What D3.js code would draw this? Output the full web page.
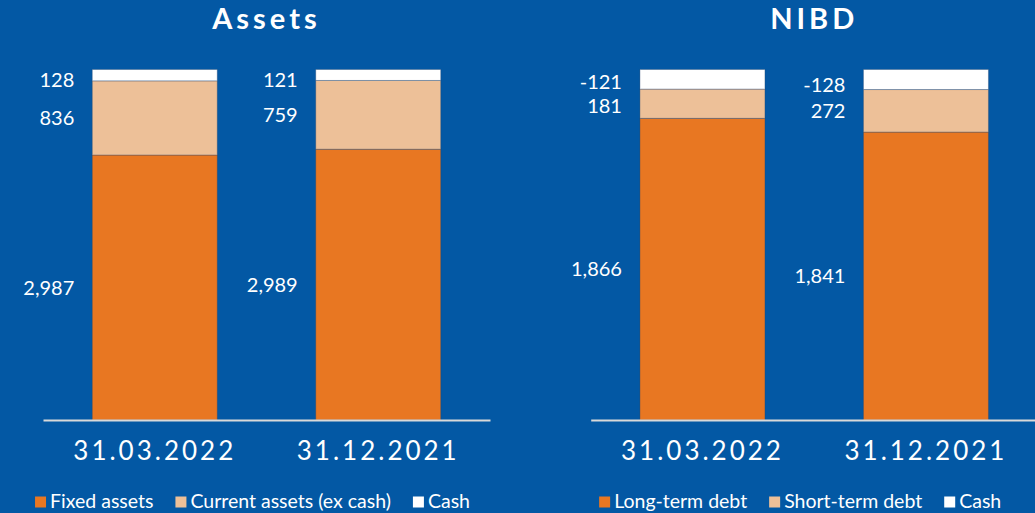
<!DOCTYPE html>
<html>
<head>
<meta charset="utf-8">
<script src="https://cdn.jsdelivr.net/npm/d3@7"></script>
<style>
  html, body { margin: 0; padding: 0; background: #0358a4; }
  svg { display: block; font-family: Lato, "Noto Sans", sans-serif; }
</style>
</head>
<body>
<svg id="chart" width="1035" height="513"></svg>
<script>
// Balance sheet snapshot: two 100% stacked bar panels
const categories = ["31.03.2022", "31.12.2021"];

const assetSeries = ["Fixed assets", "Current assets (ex cash)", "Cash"];
const fixedAssets = [2987, 2989];
const currentAssets = [836, 759];
const assetsCash = [128, 121];

const nibdSeries = ["Long-term debt", "Short-term debt", "Cash"];
const longTermDebt = [1866, 1841];
const shortTermDebt = [181, 272];
const nibdCash = [-121, -128];

const seriesColors = ["#e87722", "#edc098", "#ffffff"];

const W = 1035, H = 513;
const svg = d3.select("#chart");
svg.append("rect").attr("width", W).attr("height", H).attr("fill", "#0358a4");

const fmt = d3.formatLocale({ decimal: ".", thousands: ",", grouping: [3], currency: ["", ""], minus: "-" }).format(",");

const plotTop = 69.5, plotBottom = 420, plotWidth = 447;
const labelSize = 20, minLabelGap = 24;

const panels = [
  { title: "Assets", left: 43, names: assetSeries, values: [fixedAssets, currentAssets, assetsCash] },
  { title: "NIBD", left: 590.7, names: nibdSeries, values: [longTermDebt, shortTermDebt, nibdCash] }
];

panels.forEach(p => {
  const g = svg.append("g");
  const x = d3.scaleBand()
    .domain(categories)
    .range([p.left, p.left + plotWidth])
    .paddingInner(0.4407)
    .paddingOuter(0.2204);
  const y = d3.scaleLinear().domain([0, 1]).range([plotBottom, plotTop]);

  // rows keyed by series index, stacked as shares of each bar's total
  const rows = categories.map((c, i) => {
    const r = { cat: c };
    p.values.forEach((arr, k) => { r[k] = Math.abs(arr[i]); });
    return r;
  });
  const keys = p.values.map((_, k) => k);
  const stacked = d3.stack().keys(keys).offset(d3.stackOffsetExpand)(rows);

  const layers = g.selectAll("g.layer").data(stacked).join("g")
    .attr("class", "layer")
    .attr("fill", d => seriesColors[d.key]);

  layers.selectAll("rect").data(d => d).join("rect")
    .attr("x", d => x(d.data.cat))
    .attr("width", x.bandwidth())
    .attr("y", d => y(d[1]))
    .attr("height", d => y(d[0]) - y(d[1]))
    .attr("stroke", "rgba(40,70,110,0.35)")
    .attr("stroke-width", 1);

  // value labels to the left of each segment; the top label sits a little low,
  // and labels that crowd each other are spread apart
  categories.forEach((c, i) => {
    const pos = stacked.map((layer, k) => {
      const d = layer[i];
      const isTop = k === stacked.length - 1;
      return (y(d[0]) + y(d[1])) / 2 + (isTop ? 5 : 0);
    });
    for (let k = 1; k < pos.length; k++) {
      const gap = pos[k - 1] - pos[k];
      if (gap < minLabelGap) {
        const push = (minLabelGap - gap) / 2;
        pos[k - 1] += push;
        pos[k] -= push;
      }
    }
    stacked.forEach((layer, k) => {
      g.append("text")
        .attr("x", x(c) - 18)
        .attr("y", pos[k])
        .attr("dy", "0.35em")
        .attr("text-anchor", "end")
        .attr("fill", "#ffffff")
        .attr("font-size", labelSize)
        .text(fmt(p.values[k][i]));
    });
  });

  // category axis
  const axis = g.append("g")
    .attr("transform", `translate(0,${plotBottom})`)
    .call(d3.axisBottom(x).tickSize(0).tickSizeOuter(0));
  axis.select(".domain").attr("stroke", "#d9d9d9").attr("stroke-width", 2);
  axis.selectAll(".tick text")
    .attr("y", 40).attr("dy", 0)
    .attr("fill", "#ffffff")
    .attr("font-size", 26)
    .attr("letter-spacing", 3)
    .attr("font-family", "Lato, 'Noto Sans', sans-serif");

  // panel title
  const cx = p.left + plotWidth / 2;
  g.append("text")
    .attr("x", cx).attr("y", 29)
    .attr("text-anchor", "middle")
    .attr("fill", "#ffffff")
    .attr("font-size", 29)
    .attr("font-weight", "bold")
    .attr("letter-spacing", 4)
    .text(p.title);

  // legend
  const lg = g.append("g");
  let lx = 0;
  p.names.forEach((name, k) => {
    const item = lg.append("g").attr("transform", `translate(${lx},0)`);
    item.append("rect")
      .attr("x", 0).attr("y", 496.5)
      .attr("width", 11).attr("height", 11)
      .attr("fill", seriesColors[k]);
    const t = item.append("text")
      .attr("x", 15).attr("y", 508)
      .attr("fill", "#ffffff")
      .attr("font-size", 19.5)
      .text(name);
    lx += 15 + t.node().getComputedTextLength() + 22;
  });
  const legendWidth = lx - 22;
  lg.attr("transform", `translate(${cx - 14 - legendWidth / 2},0)`);
});
</script>
</body>
</html>
